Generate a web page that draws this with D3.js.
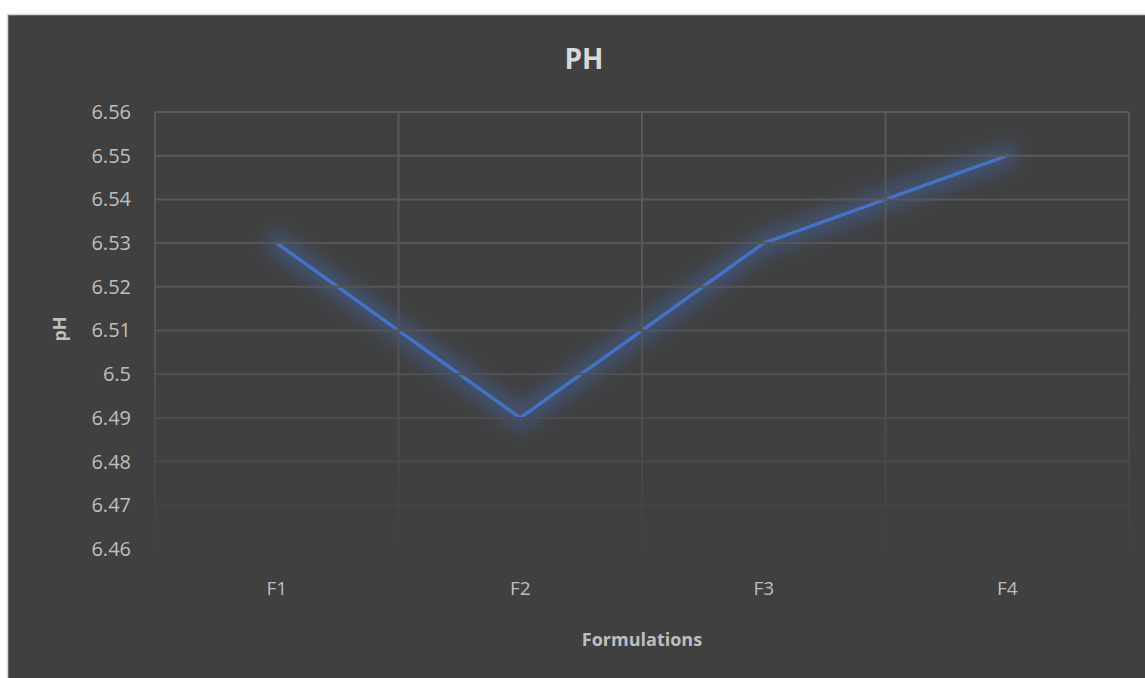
<!DOCTYPE html>
<html>
<head>
<meta charset="utf-8">
<script src="https://cdn.jsdelivr.net/npm/d3@7"></script>
<style>
  body { margin: 0; background: #ffffff; }
  svg { display: block; }
  text { font-family: "Open Sans", "Liberation Sans", sans-serif; }
</style>
</head>
<body>
<div id="wrapper"></div>
<script>
  // data
  const categories = ["F1", "F2", "F3", "F4"]
  const phValues = [6.53, 6.49, 6.53, 6.55]
  const yTicks = [6.46, 6.47, 6.48, 6.49, 6.5, 6.51, 6.52, 6.53, 6.54, 6.55, 6.56]

  const width = 1145
  const height = 678
  const dims = {
    margin: { top: 112, right: 16, bottom: 129, left: 155 },
  }
  dims.boundedWidth = width - dims.margin.left - dims.margin.right
  dims.boundedHeight = height - dims.margin.top - dims.margin.bottom

  const svg = d3.select("#wrapper")
    .append("svg")
    .attr("width", width)
    .attr("height", height)

  // chart area background + border
  svg.append("rect")
    .attr("x", 7.5).attr("y", 14.5)
    .attr("width", width).attr("height", height)
    .attr("fill", "#404040")
    .attr("stroke", "#d9d9d9")
    .attr("stroke-width", 1.5)

  const defs = svg.append("defs")
  const grad = defs.append("linearGradient")
    .attr("id", "gridFade")
    .attr("gradientUnits", "userSpaceOnUse")
    .attr("x1", 0).attr("x2", 0)
    .attr("y1", dims.margin.top).attr("y2", dims.margin.top + dims.boundedHeight)
  grad.append("stop").attr("offset", "0%").attr("stop-color", "#5a5a5a")
  grad.append("stop").attr("offset", "55%").attr("stop-color", "#545454")
  grad.append("stop").attr("offset", "100%").attr("stop-color", "#404040")

  defs.append("filter")
    .attr("id", "glow")
    .attr("x", "-20%").attr("y", "-20%").attr("width", "140%").attr("height", "140%")
    .append("feGaussianBlur").attr("stdDeviation", 9)

  const bounds = svg.append("g")
    .attr("transform", `translate(${dims.margin.left},${dims.margin.top})`)

  // scales
  const xScale = d3.scaleBand()
    .domain(categories)
    .range([0, dims.boundedWidth])

  const yScale = d3.scaleLinear()
    .domain([6.46, 6.56])
    .range([dims.boundedHeight, 0])

  // gridlines (fading toward the bottom)
  const grid = svg.append("g").attr("stroke", "url(#gridFade)").attr("stroke-width", 2)
  grid.selectAll(".h")
    .data(yTicks.slice(1))
    .join("line")
    .attr("x1", dims.margin.left)
    .attr("x2", dims.margin.left + dims.boundedWidth)
    .attr("y1", d => dims.margin.top + yScale(d))
    .attr("y2", d => dims.margin.top + yScale(d))
  const vEdges = [0].concat(categories.map(c => xScale(c) + xScale.bandwidth()))
  grid.selectAll(".v")
    .data(vEdges)
    .join("line")
    .attr("x1", d => dims.margin.left + d)
    .attr("x2", d => dims.margin.left + d)
    .attr("y1", dims.margin.top)
    .attr("y2", dims.margin.top + dims.boundedHeight)

  // axes
  const yAxis = d3.axisLeft(yScale).tickValues(yTicks).tickSize(0).tickPadding(24)
    .tickFormat(d => d3.format("")(+d.toFixed(2)))
  bounds.append("g").call(yAxis)
    .call(g => g.select(".domain").remove())
    .selectAll("text")
    .attr("fill", "#bfbfbf")
    .style("font-size", "20px")

  const xAxis = d3.axisBottom(xScale).tickSize(0).tickPadding(33)
  bounds.append("g")
    .attr("transform", `translate(0,${dims.boundedHeight})`)
    .call(xAxis)
    .call(g => g.select(".domain").remove())
    .selectAll("text")
    .attr("fill", "#bfbfbf")
    .style("font-size", "19px")

  // line
  const lineGen = d3.line()
    .x((d, i) => xScale(categories[i]) + xScale.bandwidth() / 2)
    .y(d => yScale(d))

  bounds.append("path")
    .attr("d", lineGen(phValues))
    .attr("fill", "none")
    .attr("stroke", "#4472c4")
    .attr("stroke-width", 22)
    .attr("stroke-linejoin", "round")
    .attr("stroke-linecap", "round")
    .attr("opacity", 0.4)
    .attr("filter", "url(#glow)")

  bounds.append("path")
    .attr("d", lineGen(phValues))
    .attr("fill", "none")
    .attr("stroke", "#4472c4")
    .attr("stroke-width", 3.5)
    .attr("stroke-linejoin", "round")
    .attr("stroke-linecap", "round")

  // titles
  svg.append("text")
    .attr("x", 584).attr("y", 69)
    .attr("text-anchor", "middle")
    .attr("fill", "#d9d9d9")
    .style("font-size", "28px")
    .style("font-weight", "bold")
    .text("PH")

  svg.append("text")
    .attr("transform", "translate(66,329) rotate(-90)")
    .attr("text-anchor", "middle")
    .attr("fill", "#bfbfbf")
    .style("font-size", "18px")
    .style("font-weight", "bold")
    .text("pH")

  svg.append("text")
    .attr("x", 642).attr("y", 646)
    .attr("text-anchor", "middle")
    .attr("fill", "#bfbfbf")
    .style("font-size", "18px")
    .style("font-weight", "bold")
    .text("Formulations")
</script>
</body>
</html>
